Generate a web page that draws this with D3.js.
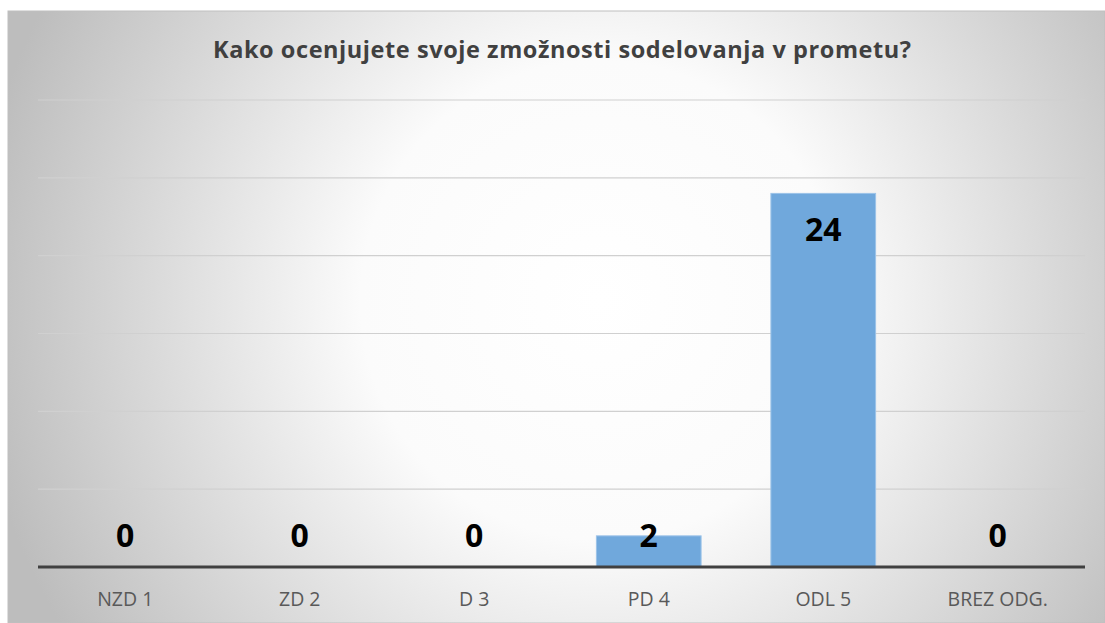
<!DOCTYPE html>
<html><head><meta charset="utf-8">
<script src="https://cdn.jsdelivr.net/npm/d3@7/dist/d3.min.js"></script>
<style>html,body{margin:0;padding:0;background:#fff;overflow:hidden}</style>
</head><body>
<svg id="c" width="1105" height="623"></svg>
<script>
const title = "Kako ocenjujete svoje zmožnosti sodelovanja v prometu?";
const categories = ["NZD 1", "ZD 2", "D 3", "PD 4", "ODL 5", "BREZ ODG."];
const values = [0, 0, 0, 2, 24, 0];
const yTicks = [0, 5, 10, 15, 20, 25, 30];

const svg = d3.select("#c");
const W = 1105, H = 623;
const defs = svg.append("defs");
const g = defs.append("radialGradient").attr("id","bg")
  .attr("gradientUnits","userSpaceOnUse").attr("cx",600).attr("cy",300).attr("r",630);
g.append("stop").attr("offset","0").attr("stop-color","#ffffff");
g.append("stop").attr("offset","0.38").attr("stop-color","#fbfbfb");
g.append("stop").attr("offset","1").attr("stop-color","#bdbdbd");

svg.append("rect").attr("x",8).attr("y",11).attr("width",W-8).attr("height",H-11)
  .attr("fill","url(#bg)").attr("stroke","#bfbfbf").attr("stroke-width",1);

const pLeft = 38, pRight = 1085, pTop = 100, pBase = 567;
const x = d3.scaleBand().domain(categories).range([pLeft,pRight]).paddingInner(0.4).paddingOuter(0.2);
const y = d3.scaleLinear().domain([0,30]).range([pBase,pTop]);

// gridlines
svg.append("g").selectAll("line").data(yTicks.filter(t=>t>0)).join("line")
  .attr("x1",pLeft).attr("x2",pRight).attr("y1",d=>y(d)).attr("y2",d=>y(d))
  .attr("stroke","#d0d0d0").attr("stroke-width",1.2);

// bars
svg.append("g").selectAll("rect").data(values).join("rect")
  .attr("x",(d,i)=>x(categories[i])).attr("width",x.bandwidth())
  .attr("y",d=>y(d)).attr("height",d=>pBase-y(d))
  .attr("fill","#70a8dc").attr("stroke","#9cc3e8").attr("stroke-width",1);

// baseline axis
const xAxis = d3.axisBottom(x).tickSize(0).tickPadding(0);
const ax = svg.append("g").attr("transform",`translate(0,${pBase})`).call(xAxis);
ax.select(".domain").attr("stroke","#404040").attr("stroke-width",3).attr("d",`M${pLeft},0H${pRight}`);
ax.selectAll("text").attr("y",39).attr("dy",null)
  .attr("font-family","'Open Sans', sans-serif").attr("font-size",19.5).attr("fill","#595959");

// data labels
svg.append("g").selectAll("text").data(values).join("text")
  .attr("x",(d,i)=>x(categories[i])+x.bandwidth()/2)
  .attr("y",d=>Math.min(y(d)+48, pBase-20))
  .attr("text-anchor","middle")
  .attr("font-family","'Open Sans', sans-serif").attr("font-weight","bold")
  .attr("font-size",32).attr("fill","#000").text(d=>d);

// title
svg.append("text").attr("x",562).attr("y",58).attr("text-anchor","middle")
  .attr("font-family","'Open Sans', sans-serif").attr("font-weight","bold")
  .attr("font-size",23.5).attr("textLength",698).attr("lengthAdjust","spacing")
  .attr("fill","#404040").text(title);
</script>
</body></html>
